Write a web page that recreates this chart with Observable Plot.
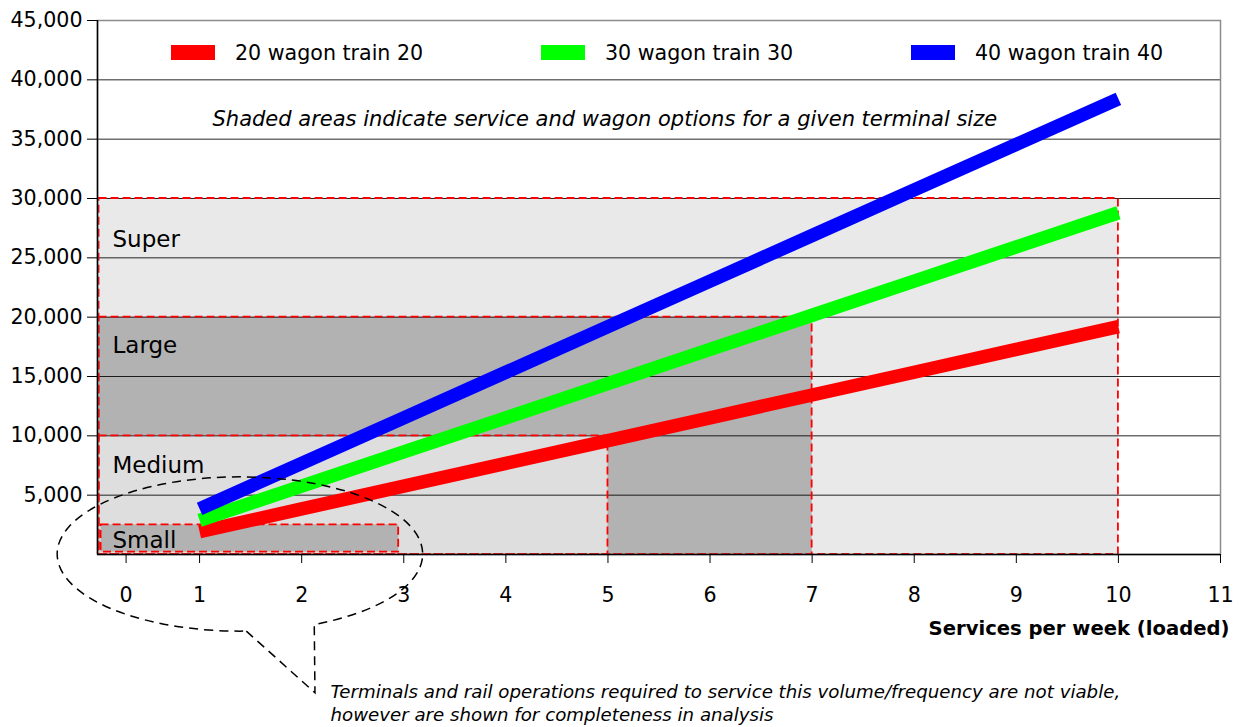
<!DOCTYPE html>
<html><head><meta charset="utf-8">
<script src="https://cdn.jsdelivr.net/npm/d3@7"></script>
<script src="https://cdn.jsdelivr.net/npm/@observablehq/plot@0.6"></script>
<style>
html,body{margin:0;padding:0;background:#fff;}
#chart svg{display:block;}
</style></head><body><div id="chart"></div>
<script>
// ---- data ----
const services = [1, 2, 3, 4, 5, 6, 7, 8, 9, 10];
const wagons20 = [1920, 3840, 5760, 7680, 9600, 11520, 13440, 15360, 17280, 19200];
const wagons30 = [2880, 5760, 8640, 11520, 14400, 17280, 20160, 23040, 25920, 28800];
const wagons40 = [3840, 7680, 11520, 15360, 19200, 23040, 26880, 30720, 34560, 38400];
const seriesNames = ["20 wagon train 20", "30 wagon train 30", "40 wagon train 40"];
const seriesValues = [wagons20, wagons30, wagons40];
const seriesColors = ["#ff0000", "#00ff00", "#0000ff"];

const terminalNames = ["Super", "Large", "Medium", "Small"];
const terminalMinServices = [0.015, 0.015, 0.015, 0.035];
const terminalMaxServices = [10, 7, 5, 2.95];
const terminalMinVolume = [0, 0, 0, 200];
const terminalMaxVolume = [30000, 20000, 10000, 2500];
const terminalFills = ["#e9e9e9", "#b2b2b2", "#dedede", "#b2b2b2"];
const terminalLabelVolume = [26500, 17600, 7450, 1200];

const yTicks = [5000, 10000, 15000, 20000, 25000, 30000, 35000, 40000, 45000];
const xTickPos = [0.28, 1, 2, 3, 4, 5, 6, 7, 8, 9, 10, 11];
const xTickLabels = ["0", "1", "2", "3", "4", "5", "6", "7", "8", "9", "10", "11"];

const subtitle = "Shaded areas indicate service and wagon options for a given terminal size";
const xTitle = "Services per week (loaded)";
const note = "Terminals and rail operations required to service this volume/frequency are not viable,\nhowever are shown for completeness in analysis";

// callout (data units)
const calloutCenter = {x: 1.40, y: 0};
const calloutRadius = {x: 1.79, y: 6500};
const calloutTip = {x: 2.135, y: -11700};
const calloutGapDeg = [88, 66];

// ---- tables ----
const boxes = terminalNames.map((name, i) => ({
  name, x1: terminalMinServices[i], x2: terminalMaxServices[i],
  y1: terminalMinVolume[i], y2: terminalMaxVolume[i],
  fill: terminalFills[i], ly: terminalLabelVolume[i]
}));
const seriesRows = seriesNames.map((name, k) =>
  services.map((s, i) => ({series: name, s, v: seriesValues[k][i]})));

const FONT = "DejaVu Sans";
const AXIS_FS = 20.6;

function legendMark(index, scales, values, dims) {
  const g = d3.create("svg:g").attr("font-family", FONT).attr("font-size", 20.6)
    .attr("text-anchor", "start");
  seriesNames.forEach((name, i) => {
    const x0 = dims.marginLeft + 74 + i * 370;
    const y0 = dims.marginTop + 25;
    g.append("rect").attr("x", x0).attr("y", y0).attr("width", 44).attr("height", 15)
      .attr("fill", seriesColors[i]);
    g.append("text").attr("x", x0 + 64).attr("y", y0 + 7.5).attr("dy", "0.35em")
      .attr("text-anchor", "start").attr("fill", "#000").text(name);
  });
  return g.node();
}

function calloutMark(index, scales) {
  const X = scales.x, Y = scales.y;
  const cx = X(calloutCenter.x), cy = Y(calloutCenter.y);
  const rx = X(calloutCenter.x + calloutRadius.x) - cx;
  const ry = cy - Y(calloutRadius.y);
  const pt = deg => [cx + rx * Math.cos(deg * Math.PI / 180), cy + ry * Math.sin(deg * Math.PI / 180)];
  const a = pt(calloutGapDeg[0]), b = pt(calloutGapDeg[1]);
  const tip = [X(calloutTip.x), Y(calloutTip.y)];
  const d = `M${a[0]},${a[1]}L${tip[0]},${tip[1]}L${b[0]},${b[1]}A${rx},${ry} 0 1 0 ${a[0]},${a[1]}`;
  const g = d3.create("svg:g");
  g.append("path").attr("d", d).attr("fill", "none").attr("stroke", "#000")
    .attr("stroke-width", 1.5).attr("stroke-dasharray", "9,6");
  return g.node();
}

const marks = [
  Plot.rect(boxes, {x1: "x1", x2: "x2", y1: "y1", y2: "y2", fill: d => d.fill}),
  Plot.ruleY(yTicks, {stroke: "#000", strokeOpacity: 0.85, strokeWidth: 1}),
  Plot.rect(boxes, {x1: "x1", x2: "x2", y1: "y1", y2: "y2", fill: "none",
    stroke: "#ff0000", strokeWidth: 1.8, strokeDasharray: "8,4"}),
  Plot.frame({stroke: "#8c8c8c", strokeWidth: 1.5}),
  Plot.ruleX([0], {stroke: "#000", strokeWidth: 1.5}),
  Plot.ruleY([0], {stroke: "#000", strokeWidth: 1.5}),
  Plot.axisY({ticks: yTicks, tickFormat: d3.format(","), tickSize: 10, tickPadding: 5,
    label: null, stroke: "#000", fill: "#000", fontSize: AXIS_FS}),
  Plot.axisX({ticks: xTickPos, tickFormat: d => xTickLabels[xTickPos.indexOf(d)],
    tickSize: 9, tickPadding: 24, label: null, stroke: "#000", fill: "#000", fontSize: AXIS_FS}),
  Plot.text(boxes, {x: 0, y: "ly", text: "name", dx: 15, textAnchor: "start",
    lineAnchor: "middle", fontSize: 23, fill: "#000"}),
  Plot.text([subtitle], {frameAnchor: "top-left", dx: 115, dy: 99, textAnchor: "start",
    lineAnchor: "middle", fontStyle: "italic", fontSize: 21, fill: "#000"}),
  ...seriesRows.map((rows, k) => Plot.line(rows, {x: "s", y: "v", stroke: seriesColors[k],
    strokeWidth: 13.5, strokeLinecap: "butt", strokeLinejoin: "miter"})),
  legendMark,
  Plot.text([xTitle], {frameAnchor: "bottom-right", dx: 9, dy: 74, textAnchor: "end",
    lineAnchor: "middle", fontWeight: "bold", fontSize: 19.6, fill: "#000"}),
  Plot.text([note], {frameAnchor: "bottom-left", dx: 233, dy: 147.5, textAnchor: "start",
    lineAnchor: "middle", lineHeight: 1.26, fontStyle: "italic", fontSize: 18.2, fill: "#000"}),
  calloutMark
];

const chart = Plot.plot({
  width: 1239,
  height: 727,
  marginLeft: 97,
  marginRight: 19,
  marginTop: 20,
  marginBottom: 173,
  x: {domain: [0, 11]},
  y: {domain: [0, 45000]},
  style: {fontFamily: FONT, fontSize: "20.6px", color: "#000", background: "#fff", overflow: "visible"},
  marks
});
document.getElementById("chart").appendChild(chart);
</script>
</body></html>
